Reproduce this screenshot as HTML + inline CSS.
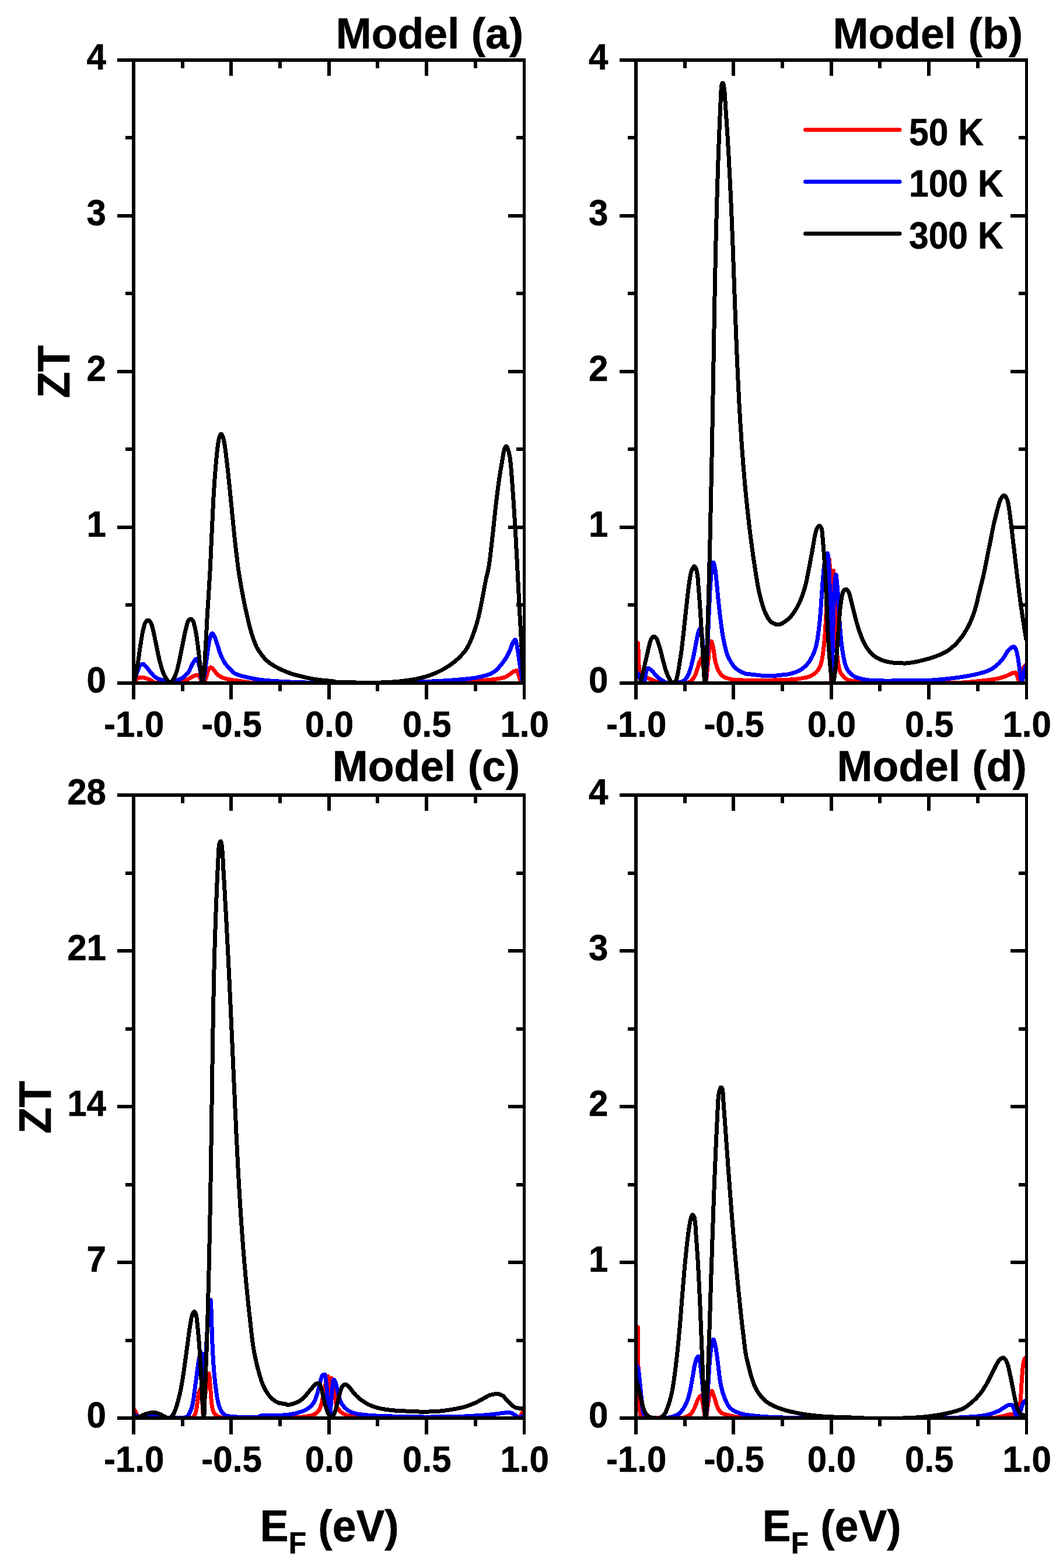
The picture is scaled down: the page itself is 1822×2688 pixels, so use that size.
<!DOCTYPE html>
<html lang="en">
<head>
<meta charset="utf-8">
<title>ZT versus Fermi energy for Models (a)-(d)</title>
<style>
html,body{margin:0;padding:0;background:#fff;}
body{width:1822px;height:2688px;overflow:hidden;}
svg{display:block;}
</style>
</head>
<body>
<svg width="1822" height="2688" viewBox="0 0 1822 2688">
<rect x="0" y="0" width="1822" height="2688" fill="#fff"/>
<g id="panel-a">
<clipPath id="clip-a"><rect x="232" y="106" width="664" height="1062"/></clipPath>
<g clip-path="url(#clip-a)" fill="none" stroke-width="7.0" stroke-linejoin="round" stroke-linecap="butt" shape-rendering="crispEdges">
<path stroke="#ff0000" d="M229.1,1170.7 L230.3,1168.6 L231.6,1166.8 L232.5,1165.7 L233.5,1164.7 L234.5,1163.9 L235.6,1163.2 L238.0,1162.0 L240.1,1161.4 L241.5,1161.1 L242.9,1161.0 L244.3,1161.1 L246.3,1161.5 L255.0,1164.4 L258.2,1165.8 L258.8,1166.1 L260.0,1167.0 L262.9,1169.5 L263.5,1169.9 L264.0,1170.2 L264.6,1170.5 L265.2,1170.6 L277.3,1170.7 L289.5,1170.7 L301.7,1170.7 L306.5,1170.6 L307.8,1170.4 L309.1,1170.1 L311.8,1169.1 L322.1,1164.3 L332.0,1159.0 L333.3,1158.4 L336.0,1157.6 L338.1,1157.2 L338.8,1157.2 L339.3,1157.2 L339.8,1157.4 L340.3,1157.8 L340.8,1158.3 L341.6,1159.7 L343.1,1162.4 L343.8,1163.8 L345.6,1168.6 L346.2,1169.8 L346.5,1170.2 L346.8,1170.5 L347.2,1170.7 L347.5,1170.6 L347.9,1170.5 L348.3,1170.2 L349.2,1169.3 L350.1,1168.0 L351.4,1165.9 L353.2,1162.2 L353.9,1160.3 L356.1,1151.3 L356.8,1149.4 L357.7,1147.4 L358.5,1146.0 L359.0,1145.3 L359.5,1144.7 L360.0,1144.2 L360.5,1143.9 L361.0,1143.8 L361.5,1143.9 L362.0,1144.2 L362.6,1144.5 L363.7,1145.5 L366.3,1148.3 L368.0,1150.5 L370.5,1154.1 L371.3,1155.1 L372.3,1156.1 L374.4,1157.8 L376.8,1159.4 L379.3,1160.8 L381.9,1161.9 L387.8,1163.6 L399.6,1166.0 L412.1,1167.6 L424.5,1169.6 L430.1,1170.4 L442.7,1170.9 L455.3,1171.0 L467.9,1171.0 L480.5,1171.0 L493.1,1171.0 L505.7,1171.0 L518.3,1171.0 L530.9,1171.0 L543.5,1171.0 L556.1,1171.0 L568.7,1170.9 L581.3,1170.9 L593.9,1170.9 L606.5,1170.9 L619.1,1170.9 L631.7,1170.9 L644.3,1170.9 L656.9,1170.8 L669.5,1170.8 L682.1,1170.8 L694.7,1170.8 L707.3,1170.7 L719.9,1170.7 L732.5,1170.7 L745.1,1170.6 L757.7,1170.4 L770.2,1169.9 L782.8,1169.3 L795.4,1168.5 L808.0,1167.7 L820.6,1166.9 L833.2,1166.0 L845.7,1164.8 L856.9,1163.1 L863.6,1161.5 L865.6,1160.9 L867.5,1160.1 L875.2,1155.1 L879.2,1152.0 L880.3,1151.3 L881.5,1150.7 L883.7,1150.0 L885.1,1149.8 L885.7,1149.7 L886.1,1149.7 L886.4,1150.0 L886.7,1150.4 L887.0,1150.9 L887.6,1152.2 L888.9,1157.2 L891.4,1164.8 L892.0,1166.1 L892.6,1167.2 L893.0,1167.7 L893.9,1168.6 L895.0,1169.5 L897.0,1170.6"/>
<path stroke="#0000ff" d="M229.1,1170.7 L233.0,1158.7 L237.0,1147.1 L238.0,1144.4 L238.9,1142.6 L239.5,1141.5 L240.3,1140.6 L241.5,1139.7 L242.8,1138.9 L243.5,1138.6 L244.1,1138.4 L244.8,1138.3 L245.3,1138.4 L245.9,1138.6 L246.5,1138.9 L247.0,1139.3 L248.1,1140.4 L252.1,1144.7 L257.7,1151.9 L263.3,1158.4 L265.4,1160.3 L267.0,1161.5 L268.7,1162.5 L271.9,1163.8 L280.7,1166.6 L283.3,1167.7 L287.3,1169.6 L288.6,1170.1 L289.9,1170.5 L291.2,1170.7 L292.5,1170.6 L293.8,1170.3 L295.8,1169.6 L301.0,1167.1 L308.9,1164.1 L310.8,1163.2 L313.1,1161.8 L316.0,1159.7 L318.6,1157.3 L321.1,1154.6 L323.2,1151.9 L324.6,1149.6 L329.3,1139.3 L332.9,1133.4 L334.3,1131.4 L335.2,1130.3 L335.6,1130.0 L336.0,1129.7 L336.4,1129.5 L336.7,1129.5 L337.1,1129.7 L337.4,1129.9 L337.7,1130.2 L338.3,1131.2 L338.9,1132.4 L339.9,1135.5 L342.4,1145.0 L344.4,1157.3 L345.9,1167.4 L346.5,1169.7 L346.9,1170.5 L347.2,1170.7 L347.3,1170.7 L347.6,1170.4 L348.0,1169.4 L348.9,1165.7 L351.0,1153.5 L352.7,1141.4 L354.3,1128.9 L356.0,1116.4 L357.7,1103.8 L359.2,1096.4 L360.6,1091.4 L361.5,1089.0 L362.1,1087.6 L362.7,1086.6 L363.1,1086.3 L363.4,1086.0 L363.7,1085.9 L364.0,1085.9 L364.4,1086.1 L364.8,1086.5 L365.6,1087.5 L366.8,1089.7 L368.9,1094.0 L372.8,1106.0 L376.6,1118.0 L380.6,1127.8 L383.5,1133.4 L385.6,1137.0 L387.2,1139.2 L395.5,1147.9 L398.2,1151.2 L399.1,1152.2 L400.2,1153.1 L402.4,1154.4 L405.6,1155.9 L413.7,1158.7 L426.0,1161.6 L438.3,1164.2 L450.8,1165.9 L463.4,1167.1 L475.9,1167.9 L488.5,1168.6 L501.1,1169.2 L513.7,1169.7 L526.3,1170.1 L538.9,1170.3 L551.5,1170.5 L564.1,1170.7 L576.7,1170.7 L589.3,1170.7 L601.9,1170.7 L614.5,1170.7 L627.1,1170.7 L639.7,1170.6 L652.3,1170.5 L664.9,1170.3 L677.5,1170.0 L690.1,1169.7 L702.7,1169.3 L715.3,1169.0 L727.9,1168.5 L740.5,1168.0 L753.0,1167.4 L765.6,1166.7 L778.2,1165.8 L790.7,1164.7 L803.3,1163.6 L815.8,1161.9 L828.1,1159.2 L835.6,1157.1 L840.1,1155.4 L843.2,1153.8 L846.9,1151.6 L850.8,1148.7 L853.3,1146.3 L861.3,1136.5 L865.9,1130.3 L869.5,1124.3 L874.6,1113.6 L878.2,1103.6 L879.1,1101.8 L880.7,1099.1 L881.7,1097.8 L882.2,1097.3 L882.6,1097.0 L883.0,1096.9 L883.4,1097.1 L883.7,1097.6 L884.1,1098.2 L884.7,1099.9 L885.6,1103.3 L887.5,1115.8 L889.4,1128.3 L891.2,1140.8 L893.1,1153.2 L895.1,1165.7 L895.8,1170.6"/>
<path stroke="#000000" d="M229.1,1170.7 L232.3,1158.5 L234.7,1146.1 L236.8,1133.7 L238.6,1121.2 L240.3,1108.7 L242.3,1096.3 L244.4,1083.8 L247.1,1072.8 L247.9,1070.0 L248.7,1068.1 L249.3,1067.0 L250.1,1065.9 L251.1,1064.7 L251.7,1064.2 L252.3,1063.7 L252.9,1063.3 L253.5,1063.1 L254.0,1063.1 L254.6,1063.2 L255.2,1063.5 L255.8,1064.0 L256.4,1064.5 L257.4,1065.7 L258.2,1066.8 L259.1,1068.6 L260.1,1071.1 L263.1,1082.9 L265.7,1095.3 L268.2,1107.6 L270.7,1120.0 L273.5,1132.3 L276.8,1144.5 L279.7,1153.1 L281.6,1157.6 L283.6,1161.3 L286.4,1165.4 L288.7,1168.5 L289.7,1169.7 L290.2,1170.1 L290.7,1170.5 L291.2,1170.6 L291.7,1170.6 L292.2,1170.5 L292.7,1170.1 L293.2,1169.7 L294.2,1168.5 L297.2,1164.2 L299.3,1160.5 L301.3,1155.9 L303.8,1148.0 L306.7,1135.7 L309.3,1123.3 L311.7,1111.0 L314.2,1098.6 L316.6,1086.2 L319.6,1073.9 L321.2,1068.1 L321.9,1066.1 L322.8,1064.3 L323.4,1063.3 L323.8,1062.9 L324.3,1062.4 L324.9,1062.0 L325.5,1061.6 L326.2,1061.3 L326.9,1061.1 L327.5,1061.2 L328.1,1061.5 L328.8,1061.9 L329.3,1062.4 L329.9,1063.0 L330.7,1064.1 L331.5,1065.8 L332.4,1068.4 L335.1,1080.3 L337.2,1092.8 L338.9,1105.2 L340.4,1117.8 L341.8,1130.3 L343.2,1142.8 L344.6,1155.3 L346.4,1167.8 L346.9,1170.0 L347.1,1170.6 L347.2,1170.7 L347.3,1170.6 L347.6,1170.2 L348.1,1168.1 L349.6,1155.6 L350.6,1143.1 L351.3,1130.5 L351.9,1117.9 L352.6,1105.3 L353.3,1092.7 L354.0,1080.1 L354.6,1067.6 L355.3,1055.0 L356.1,1042.4 L356.9,1029.8 L357.7,1017.2 L358.5,1004.7 L359.2,992.1 L360.0,979.5 L360.6,966.9 L361.2,954.3 L361.8,941.8 L362.3,929.2 L362.9,916.6 L363.5,904.0 L364.1,891.4 L364.7,878.8 L365.3,866.2 L365.9,853.7 L366.7,841.1 L367.5,828.5 L368.4,815.9 L369.4,803.4 L370.5,790.8 L371.6,778.3 L373.1,765.8 L374.8,753.8 L375.8,749.8 L376.5,747.9 L377.1,746.3 L377.5,745.5 L378.0,744.9 L378.4,744.4 L378.8,744.1 L379.2,744.0 L379.6,744.2 L380.0,744.7 L380.4,745.3 L381.2,746.8 L382.3,749.6 L383.7,754.9 L385.7,766.8 L387.4,779.3 L388.8,791.8 L390.3,804.4 L391.6,816.9 L392.9,829.4 L394.2,841.9 L395.4,854.5 L396.7,867.0 L397.9,879.6 L399.1,892.1 L400.4,904.6 L401.6,917.2 L403.0,929.7 L404.4,942.2 L405.9,954.7 L407.4,967.3 L409.1,979.7 L411.1,992.2 L413.2,1004.6 L415.5,1017.0 L417.9,1029.4 L420.4,1041.8 L423.2,1054.1 L426.0,1066.3 L429.1,1078.5 L432.6,1090.6 L436.9,1102.5 L440.0,1109.6 L442.4,1113.8 L449.7,1124.1 L454.2,1129.5 L457.7,1132.9 L462.6,1136.8 L469.6,1141.4 L480.8,1147.4 L492.3,1152.4 L503.6,1156.3 L515.8,1159.4 L528.0,1162.4 L540.4,1164.6 L552.9,1166.1 L565.5,1167.2 L571.7,1168.0 L575.1,1169.0 L575.8,1169.1 L588.3,1169.3 L601.0,1169.5 L613.6,1170.2 L626.2,1170.7 L638.8,1170.5 L651.4,1170.1 L664.0,1169.5 L676.5,1168.8 L689.1,1167.6 L701.6,1166.0 L714.0,1163.9 L726.3,1160.9 L738.3,1157.1 L748.7,1152.9 L759.4,1147.5 L769.5,1141.4 L777.5,1135.6 L785.5,1128.7 L792.8,1121.2 L797.3,1115.7 L800.4,1111.1 L804.4,1103.8 L809.1,1092.8 L813.4,1081.0 L817.2,1068.9 L820.4,1056.7 L823.1,1044.4 L825.6,1032.1 L828.0,1019.7 L830.2,1007.3 L832.6,994.9 L834.4,986.7 L836.1,980.6 L838.3,968.3 L840.0,955.8 L841.5,943.3 L842.9,930.7 L844.3,918.2 L845.7,905.7 L847.0,893.1 L848.3,880.6 L849.7,868.1 L851.1,855.5 L852.7,843.0 L854.3,830.5 L856.1,818.1 L858.1,805.6 L860.3,793.2 L862.3,780.7 L863.4,774.5 L864.3,771.2 L865.1,768.8 L865.8,767.2 L866.6,765.9 L866.9,765.4 L867.3,765.1 L867.6,765.0 L867.9,765.1 L868.3,765.4 L868.6,765.8 L869.4,767.1 L870.4,769.5 L872.1,775.1 L874.0,784.0 L875.5,796.6 L876.5,809.1 L877.5,821.7 L878.4,834.3 L879.3,846.8 L880.2,859.4 L881.0,872.0 L881.8,884.6 L882.6,897.1 L883.3,909.7 L884.1,922.3 L884.7,934.9 L885.4,947.4 L886.1,960.0 L886.7,972.6 L887.4,985.2 L888.0,997.8 L888.7,1010.4 L889.3,1022.9 L889.9,1035.5 L890.6,1048.1 L891.3,1060.7 L892.0,1073.3 L892.7,1085.9 L893.5,1098.4 L894.1,1111.0 L894.8,1123.6 L895.4,1136.2 L896.0,1148.8 L896.6,1161.4 L897.0,1170.6"/>
</g>
<g fill="#000" shape-rendering="crispEdges">
<rect x="226" y="100" width="6" height="1074"/>
<rect x="896" y="100" width="5" height="1074"/>
<rect x="226" y="100" width="675" height="6"/>
<rect x="226" y="1168" width="675" height="6"/>
<rect x="226" y="1174" width="6" height="25"/>
<rect x="226" y="106" width="6" height="24"/>
<rect x="310" y="1174" width="6" height="11"/>
<rect x="310" y="106" width="6" height="11"/>
<rect x="393" y="1174" width="6" height="25"/>
<rect x="393" y="106" width="6" height="24"/>
<rect x="477" y="1174" width="6" height="11"/>
<rect x="477" y="106" width="6" height="11"/>
<rect x="561" y="1174" width="6" height="25"/>
<rect x="561" y="106" width="6" height="24"/>
<rect x="644" y="1174" width="6" height="11"/>
<rect x="644" y="106" width="6" height="11"/>
<rect x="728" y="1174" width="6" height="25"/>
<rect x="728" y="106" width="6" height="24"/>
<rect x="812" y="1174" width="6" height="11"/>
<rect x="812" y="106" width="6" height="11"/>
<rect x="896" y="1174" width="5" height="25"/>
<rect x="896" y="106" width="5" height="24"/>
<rect x="201" y="100" width="25" height="6"/>
<rect x="871" y="100" width="25" height="6"/>
<rect x="215" y="233" width="11" height="6"/>
<rect x="885" y="233" width="11" height="6"/>
<rect x="201" y="367" width="25" height="6"/>
<rect x="871" y="367" width="25" height="6"/>
<rect x="215" y="500" width="11" height="6"/>
<rect x="885" y="500" width="11" height="6"/>
<rect x="201" y="634" width="25" height="6"/>
<rect x="871" y="634" width="25" height="6"/>
<rect x="215" y="767" width="11" height="6"/>
<rect x="885" y="767" width="11" height="6"/>
<rect x="201" y="901" width="25" height="6"/>
<rect x="871" y="901" width="25" height="6"/>
<rect x="215" y="1034" width="11" height="6"/>
<rect x="885" y="1034" width="11" height="6"/>
<rect x="201" y="1168" width="25" height="6"/>
<rect x="871" y="1168" width="25" height="6"/>
</g>
<g font-family="'Liberation Sans', Arial, Helvetica, sans-serif" font-weight="bold" fill="#000" stroke="#000" stroke-width="0.6" stroke-linejoin="round">
<text transform="translate(575.70,82.90) scale(0.99,1.0)" font-size="74" text-anchor="start">Model (a)</text>
<text transform="translate(181.90,1186.60) scale(0.976,1.025)" font-size="61.5" text-anchor="end">0</text>
<text transform="translate(181.90,919.60) scale(0.976,1.025)" font-size="61.5" text-anchor="end">1</text>
<text transform="translate(181.90,652.60) scale(0.976,1.025)" font-size="61.5" text-anchor="end">2</text>
<text transform="translate(181.90,385.60) scale(0.976,1.025)" font-size="61.5" text-anchor="end">3</text>
<text transform="translate(181.90,118.60) scale(0.976,1.025)" font-size="61.5" text-anchor="end">4</text>
<text transform="translate(229.70,1262.70) scale(0.976,1.025)" font-size="61.5" text-anchor="middle">-1.0</text>
<text transform="translate(397.07,1262.70) scale(0.976,1.025)" font-size="61.5" text-anchor="middle">-0.5</text>
<text transform="translate(564.45,1262.70) scale(0.976,1.025)" font-size="61.5" text-anchor="middle">0.0</text>
<text transform="translate(731.83,1262.70) scale(0.976,1.025)" font-size="61.5" text-anchor="middle">0.5</text>
<text transform="translate(899.20,1262.70) scale(0.976,1.025)" font-size="61.5" text-anchor="middle">1.0</text>
<text transform="translate(119.00,637.30) rotate(-90) scale(1.0,1.04)" font-size="74" text-anchor="middle">ZT</text>
</g>
</g>
<g id="panel-b">
<clipPath id="clip-b"><rect x="1093" y="106" width="664" height="1062"/></clipPath>
<g clip-path="url(#clip-b)" fill="none" stroke-width="7.0" stroke-linejoin="round" stroke-linecap="butt" shape-rendering="crispEdges">
<path stroke="#ff0000" d="M1090.0,1101.0 L1091.7,1101.3 L1092.4,1101.6 L1093.0,1101.8 L1093.2,1102.1 L1093.7,1105.0 L1094.2,1117.3 L1094.5,1129.4 L1095.1,1142.0 L1096.0,1154.6 L1096.9,1163.0 L1097.6,1166.4 L1098.1,1168.0 L1098.7,1169.6 L1099.1,1170.2 L1099.4,1170.7 L1099.8,1171.0 L1100.2,1171.0 L1100.7,1170.7 L1101.2,1170.3 L1102.2,1169.2 L1104.2,1166.7 L1105.7,1164.3 L1106.2,1163.8 L1106.7,1163.4 L1107.3,1163.0 L1107.9,1162.6 L1108.6,1162.4 L1109.3,1162.3 L1109.9,1162.4 L1111.3,1162.8 L1122.9,1167.7 L1126.8,1169.4 L1128.7,1170.4 L1129.4,1170.7 L1130.0,1170.9 L1130.7,1171.0 L1143.2,1171.0 L1155.9,1171.0 L1168.5,1171.1 L1173.4,1171.0 L1176.3,1170.7 L1180.3,1169.9 L1181.5,1169.5 L1182.6,1168.9 L1183.8,1168.1 L1185.4,1166.6 L1186.9,1164.9 L1189.1,1161.8 L1190.5,1159.5 L1192.0,1156.4 L1195.5,1146.4 L1198.0,1137.6 L1200.0,1132.4 L1201.1,1130.2 L1201.7,1129.2 L1202.0,1129.0 L1202.2,1128.9 L1202.4,1129.0 L1202.6,1129.3 L1203.0,1130.1 L1203.6,1132.1 L1205.7,1144.3 L1207.2,1156.8 L1208.6,1168.8 L1209.0,1170.6 L1209.2,1171.0 L1209.4,1171.1 L1209.6,1171.0 L1209.9,1170.0 L1211.5,1157.7 L1212.6,1145.1 L1213.8,1132.8 L1214.9,1120.2 L1216.3,1109.0 L1217.4,1103.7 L1218.0,1101.4 L1218.4,1100.3 L1218.6,1099.9 L1218.8,1099.6 L1219.0,1099.5 L1219.2,1099.6 L1219.4,1099.7 L1219.8,1100.5 L1220.5,1102.3 L1222.1,1108.3 L1223.4,1115.5 L1224.9,1128.0 L1226.8,1136.9 L1228.8,1143.6 L1230.4,1147.5 L1232.0,1150.7 L1233.9,1153.6 L1235.6,1155.8 L1237.6,1157.9 L1239.3,1159.3 L1240.4,1160.0 L1242.7,1161.3 L1246.0,1162.6 L1249.5,1163.6 L1257.0,1165.2 L1260.5,1165.6 L1271.0,1165.7 L1278.6,1166.8 L1291.2,1166.8 L1303.8,1166.7 L1316.4,1166.4 L1329.0,1165.8 L1341.6,1165.4 L1354.2,1165.0 L1366.1,1164.1 L1378.0,1162.2 L1384.0,1160.8 L1387.3,1159.7 L1390.6,1158.1 L1393.7,1156.4 L1396.5,1154.4 L1398.5,1152.7 L1400.4,1150.6 L1402.6,1147.7 L1404.2,1145.2 L1405.5,1142.7 L1406.9,1138.9 L1408.9,1130.8 L1410.8,1118.9 L1412.3,1106.4 L1413.5,1093.8 L1414.4,1081.2 L1415.2,1068.7 L1415.9,1056.1 L1416.5,1043.5 L1417.0,1030.9 L1417.5,1018.3 L1418.0,1005.7 L1418.6,993.1 L1419.4,981.0 L1420.3,968.6 L1421.4,959.3 L1421.4,959.2 L1422.4,971.9 L1422.7,984.7 L1423.0,996.7 L1423.3,1008.9 L1423.5,1021.5 L1423.6,1033.5 L1423.8,1045.5 L1423.9,1058.1 L1424.0,1070.1 L1424.1,1082.2 L1424.2,1094.3 L1424.3,1107.0 L1424.4,1119.1 L1424.5,1131.3 L1424.6,1143.8 L1424.7,1155.9 L1424.9,1168.1 L1425.1,1169.8 L1425.4,1157.8 L1425.5,1145.4 L1425.7,1132.7 L1425.8,1120.1 L1425.9,1107.6 L1426.0,1094.7 L1426.1,1082.6 L1426.2,1070.6 L1426.4,1058.0 L1426.5,1045.4 L1426.7,1033.3 L1427.0,1020.5 L1427.2,1007.6 L1427.6,995.1 L1428.0,982.7 L1428.5,978.3 L1429.5,990.9 L1430.1,1003.7 L1430.7,1016.3 L1431.2,1028.9 L1431.6,1041.5 L1431.9,1054.1 L1432.3,1066.7 L1432.8,1079.3 L1433.2,1091.9 L1433.7,1104.5 L1434.3,1117.1 L1435.6,1129.6 L1437.5,1142.1 L1438.7,1147.6 L1439.7,1150.9 L1440.5,1152.8 L1441.6,1154.6 L1444.2,1158.0 L1447.1,1161.2 L1448.7,1162.7 L1449.8,1163.5 L1450.9,1164.3 L1452.1,1164.8 L1455.3,1166.0 L1459.5,1167.0 L1472.0,1168.6 L1484.6,1169.2 L1497.2,1169.4 L1509.8,1169.6 L1522.4,1169.7 L1535.0,1169.8 L1547.6,1169.9 L1560.2,1169.9 L1572.8,1169.9 L1585.4,1169.9 L1598.0,1169.9 L1610.6,1169.9 L1623.2,1169.9 L1635.8,1170.1 L1647.0,1170.2 L1659.6,1169.4 L1672.1,1168.2 L1684.7,1166.9 L1697.2,1165.4 L1709.6,1163.4 L1719.1,1160.9 L1723.1,1159.6 L1732.0,1155.5 L1734.6,1154.2 L1735.8,1153.6 L1736.5,1153.4 L1740.1,1153.1 L1740.7,1153.0 L1741.1,1153.2 L1741.5,1153.5 L1741.8,1154.0 L1742.2,1154.7 L1744.2,1160.7 L1745.5,1165.4 L1746.9,1169.2 L1747.3,1169.8 L1747.6,1170.3 L1747.9,1170.6 L1748.2,1170.6 L1748.4,1170.3 L1748.7,1169.9 L1749.2,1168.8 L1751.4,1159.4 L1753.2,1149.7 L1753.9,1147.1 L1754.6,1145.0 L1755.2,1143.7 L1755.9,1142.4 L1756.7,1141.4 L1757.2,1141.0 L1757.7,1140.6 L1759.2,1139.9"/>
<path stroke="#0000ff" d="M1090.0,1153.0 L1091.4,1153.6 L1092.0,1153.9 L1092.6,1154.3 L1093.1,1154.7 L1093.5,1155.1 L1094.3,1156.2 L1095.2,1158.1 L1099.1,1166.7 L1099.7,1167.9 L1100.5,1169.0 L1101.0,1169.5 L1101.6,1170.0 L1102.3,1170.5 L1102.9,1170.8 L1103.4,1171.0 L1103.6,1170.9 L1103.9,1170.7 L1104.1,1170.3 L1104.5,1169.3 L1105.1,1166.1 L1105.8,1160.9 L1107.6,1151.8 L1108.2,1149.8 L1109.0,1147.8 L1109.4,1147.1 L1109.8,1146.4 L1110.2,1145.8 L1110.7,1145.5 L1111.2,1145.5 L1111.8,1145.7 L1113.2,1146.5 L1114.9,1147.7 L1116.5,1149.0 L1125.0,1158.4 L1129.0,1162.3 L1131.2,1164.1 L1134.1,1166.0 L1140.3,1169.4 L1141.6,1170.0 L1142.9,1170.3 L1147.1,1170.9 L1149.9,1171.0 L1157.6,1170.6 L1163.8,1169.8 L1165.9,1169.4 L1168.0,1168.8 L1170.0,1167.9 L1171.8,1167.0 L1172.8,1166.3 L1173.9,1165.5 L1175.3,1163.9 L1177.1,1161.5 L1179.3,1157.8 L1181.0,1154.1 L1184.8,1142.0 L1187.7,1129.7 L1190.3,1117.4 L1192.6,1105.0 L1194.9,1092.5 L1196.2,1086.4 L1197.0,1083.7 L1198.2,1080.5 L1199.3,1078.3 L1200.0,1077.4 L1200.2,1077.2 L1200.4,1077.1 L1200.6,1077.2 L1200.8,1077.4 L1201.2,1078.0 L1201.7,1079.5 L1202.5,1083.2 L1204.0,1095.2 L1205.1,1107.7 L1205.9,1120.3 L1206.6,1132.9 L1207.2,1144.9 L1207.8,1157.7 L1208.5,1170.0 L1208.8,1171.1 L1208.9,1171.0 L1210.1,1158.5 L1210.9,1146.0 L1211.6,1133.5 L1212.2,1121.2 L1212.8,1108.7 L1213.3,1096.1 L1213.8,1083.5 L1214.3,1070.9 L1214.8,1058.3 L1215.4,1045.7 L1216.0,1033.1 L1216.6,1020.5 L1217.2,1007.9 L1218.1,995.3 L1219.2,982.7 L1220.7,970.4 L1221.6,966.2 L1222.0,964.8 L1222.3,964.2 L1222.5,964.1 L1222.6,964.0 L1222.7,964.0 L1222.9,964.1 L1223.2,964.7 L1224.0,967.0 L1225.8,975.6 L1227.4,987.7 L1228.5,1000.3 L1229.7,1012.8 L1230.9,1025.3 L1232.2,1037.9 L1233.6,1050.4 L1235.1,1062.9 L1236.7,1075.4 L1238.5,1087.9 L1240.9,1100.2 L1243.7,1112.6 L1246.2,1121.3 L1247.9,1125.9 L1250.8,1131.5 L1254.8,1138.1 L1257.3,1141.6 L1259.1,1143.7 L1261.1,1145.6 L1263.8,1147.8 L1266.8,1149.7 L1273.0,1153.0 L1276.3,1154.3 L1278.3,1155.0 L1280.3,1155.4 L1292.9,1156.6 L1305.4,1158.2 L1318.1,1158.9 L1327.7,1159.0 L1328.4,1158.8 L1329.7,1158.2 L1333.8,1157.5 L1346.4,1156.5 L1351.9,1155.7 L1358.1,1154.1 L1365.4,1151.6 L1369.2,1150.0 L1372.2,1148.3 L1375.8,1145.8 L1379.6,1142.7 L1382.5,1139.8 L1385.7,1136.0 L1388.9,1131.3 L1393.1,1123.3 L1396.2,1116.1 L1398.2,1110.1 L1400.8,1097.9 L1402.6,1085.4 L1404.2,1072.9 L1405.5,1060.3 L1406.6,1047.8 L1407.4,1035.2 L1408.3,1022.6 L1409.2,1010.1 L1410.1,997.5 L1411.1,984.9 L1412.3,972.4 L1413.6,960.4 L1414.7,954.3 L1415.2,952.9 L1415.9,951.3 L1416.8,949.7 L1417.5,948.6 L1417.8,948.3 L1418.0,948.2 L1418.1,948.2 L1418.4,948.5 L1418.8,949.4 L1419.3,951.9 L1420.5,964.3 L1421.1,976.7 L1421.6,989.3 L1422.0,1001.9 L1422.3,1014.5 L1422.5,1027.1 L1422.7,1039.7 L1423.0,1052.3 L1423.2,1064.9 L1423.5,1077.2 L1423.7,1089.6 L1423.9,1102.3 L1424.1,1114.4 L1424.4,1127.3 L1424.6,1139.5 L1424.8,1151.8 L1425.2,1164.2 L1425.7,1170.1 L1426.2,1157.9 L1426.5,1145.3 L1426.8,1132.8 L1427.0,1120.2 L1427.2,1108.1 L1427.5,1095.2 L1427.8,1083.0 L1428.1,1070.7 L1428.4,1058.1 L1428.8,1045.5 L1429.2,1032.9 L1429.7,1020.3 L1430.3,1007.7 L1431.3,994.9 L1432.3,987.1 L1432.7,985.6 L1432.8,985.3 L1432.9,985.4 L1433.1,985.7 L1433.6,988.7 L1434.8,1000.8 L1435.9,1013.0 L1436.7,1025.6 L1437.5,1038.2 L1438.2,1050.8 L1438.9,1063.3 L1439.8,1075.9 L1440.8,1088.5 L1442.1,1101.0 L1443.7,1113.5 L1445.8,1125.9 L1448.2,1137.0 L1449.8,1142.3 L1450.8,1144.8 L1452.2,1147.3 L1454.1,1150.3 L1456.2,1153.0 L1458.2,1155.1 L1460.3,1157.0 L1462.0,1158.2 L1464.4,1159.6 L1468.2,1161.4 L1472.2,1162.8 L1482.5,1165.0 L1490.1,1166.0 L1502.7,1166.6 L1515.3,1167.0 L1527.9,1167.0 L1540.5,1166.8 L1553.1,1166.6 L1565.7,1166.6 L1578.3,1167.0 L1590.9,1166.5 L1603.5,1165.5 L1616.0,1164.4 L1628.5,1163.1 L1641.1,1161.6 L1653.5,1159.7 L1665.9,1157.5 L1678.3,1154.7 L1688.3,1151.8 L1694.9,1149.2 L1699.2,1147.1 L1702.8,1144.9 L1707.3,1141.4 L1712.4,1136.7 L1717.2,1131.5 L1721.0,1126.5 L1726.4,1117.4 L1727.6,1115.8 L1729.9,1113.1 L1731.5,1111.6 L1732.6,1110.7 L1733.8,1110.0 L1735.8,1109.3 L1737.2,1108.9 L1737.8,1108.9 L1738.3,1109.0 L1738.8,1109.3 L1739.3,1109.8 L1739.8,1110.5 L1740.6,1111.9 L1741.8,1114.5 L1742.8,1117.8 L1745.1,1129.6 L1746.9,1142.1 L1748.5,1154.6 L1750.2,1166.6 L1750.8,1169.6 L1751.2,1170.4 L1751.3,1170.6 L1751.5,1170.6 L1751.6,1170.4 L1751.9,1169.6 L1754.1,1157.8 L1756.1,1148.1 L1757.1,1144.8 L1759.2,1139.9"/>
<path stroke="#000000" d="M1090.0,1171.0 L1096.2,1171.0 L1096.6,1170.7 L1096.9,1170.2 L1097.3,1169.6 L1100.1,1161.1 L1103.1,1148.8 L1105.8,1136.5 L1108.7,1124.2 L1111.4,1111.9 L1114.6,1099.6 L1115.5,1096.8 L1116.1,1095.6 L1116.7,1094.4 L1117.5,1093.4 L1118.6,1092.3 L1119.2,1091.8 L1119.9,1091.5 L1120.5,1091.3 L1121.1,1091.2 L1121.7,1091.4 L1122.3,1091.7 L1122.9,1092.1 L1124.1,1093.2 L1125.0,1094.2 L1125.7,1095.3 L1126.6,1097.2 L1130.4,1108.6 L1133.7,1120.8 L1136.7,1133.1 L1140.0,1145.2 L1143.9,1156.5 L1147.1,1163.6 L1148.5,1166.0 L1149.3,1167.2 L1150.1,1168.2 L1151.3,1169.2 L1152.6,1170.2 L1153.3,1170.6 L1153.8,1170.9 L1154.2,1171.0 L1154.9,1170.9 L1155.5,1170.7 L1156.1,1170.3 L1156.9,1169.4 L1157.7,1168.3 L1158.7,1166.3 L1160.0,1162.6 L1161.7,1155.6 L1163.8,1143.3 L1165.7,1130.8 L1167.7,1118.3 L1169.2,1105.8 L1170.7,1093.2 L1172.1,1080.7 L1173.4,1068.2 L1174.8,1055.6 L1176.1,1043.1 L1177.5,1030.6 L1178.9,1018.1 L1180.4,1005.6 L1182.2,993.1 L1183.8,983.9 L1185.0,979.3 L1185.7,977.4 L1186.8,975.1 L1187.7,973.6 L1188.6,972.3 L1189.4,971.3 L1189.8,971.0 L1190.2,970.9 L1190.5,970.9 L1190.9,971.0 L1191.2,971.3 L1191.5,971.7 L1192.2,972.8 L1192.8,974.2 L1193.6,976.6 L1194.5,980.0 L1196.0,990.4 L1196.9,1002.4 L1197.9,1015.0 L1198.9,1027.5 L1199.8,1040.1 L1200.6,1052.7 L1201.4,1065.3 L1202.2,1077.8 L1202.9,1090.4 L1203.6,1103.0 L1204.3,1115.6 L1205.0,1128.2 L1205.8,1140.7 L1206.5,1153.5 L1207.4,1166.1 L1208.0,1170.7 L1208.2,1171.1 L1208.3,1171.0 L1208.7,1169.0 L1209.8,1156.3 L1210.6,1143.7 L1211.1,1131.6 L1211.6,1119.1 L1212.0,1106.5 L1212.3,1093.9 L1212.7,1081.3 L1213.1,1068.7 L1213.5,1056.1 L1213.9,1043.5 L1214.2,1030.9 L1214.6,1018.3 L1214.9,1005.7 L1215.3,993.1 L1215.6,980.5 L1215.9,967.9 L1216.3,955.3 L1216.6,942.7 L1216.9,930.1 L1217.2,917.5 L1217.5,904.9 L1217.8,892.3 L1218.0,879.7 L1218.3,867.1 L1218.6,854.5 L1218.9,841.9 L1219.1,829.3 L1219.4,816.8 L1219.6,804.2 L1219.9,791.6 L1220.1,779.0 L1220.4,766.4 L1220.6,753.8 L1220.8,741.2 L1221.1,728.6 L1221.3,716.0 L1221.5,703.4 L1221.8,690.8 L1222.0,678.2 L1222.2,665.6 L1222.4,653.0 L1222.6,640.4 L1222.9,627.8 L1223.1,615.2 L1223.3,602.6 L1223.5,590.0 L1223.7,577.4 L1224.0,564.8 L1224.2,552.2 L1224.4,539.6 L1224.7,527.0 L1224.9,514.4 L1225.1,501.8 L1225.4,489.2 L1225.6,476.6 L1225.9,464.0 L1226.2,451.4 L1226.4,438.8 L1226.7,426.2 L1227.0,413.6 L1227.3,401.0 L1227.6,388.4 L1228.0,375.8 L1228.3,363.2 L1228.6,350.6 L1229.0,338.1 L1229.4,325.5 L1229.8,312.9 L1230.2,300.3 L1230.6,287.7 L1231.0,275.1 L1231.5,262.5 L1231.9,249.9 L1232.4,237.3 L1232.9,224.7 L1233.4,212.1 L1234.0,199.5 L1234.5,187.0 L1235.1,174.4 L1235.7,161.7 L1236.3,149.1 L1236.4,147.8 L1236.7,146.2 L1237.3,144.5 L1237.9,143.0 L1238.3,142.5 L1238.6,142.1 L1238.8,142.0 L1239.1,142.1 L1239.4,142.5 L1239.9,143.9 L1240.6,146.4 L1242.1,159.0 L1242.9,171.6 L1243.7,184.3 L1244.6,196.8 L1245.4,209.4 L1246.3,222.0 L1247.1,234.6 L1247.8,247.1 L1248.6,259.7 L1249.3,272.3 L1249.9,284.9 L1250.6,297.5 L1251.2,310.0 L1251.8,322.6 L1252.4,335.2 L1253.0,347.8 L1253.5,360.4 L1254.1,373.0 L1254.6,385.6 L1255.1,398.2 L1255.6,410.7 L1256.1,423.3 L1256.5,435.9 L1257.0,448.5 L1257.5,461.1 L1257.9,473.7 L1258.4,486.3 L1258.8,498.9 L1259.3,511.5 L1259.8,524.1 L1260.2,536.7 L1260.7,549.2 L1261.2,561.8 L1261.7,574.4 L1262.2,587.0 L1262.7,599.6 L1263.2,612.2 L1263.8,624.8 L1264.3,637.4 L1264.9,650.0 L1265.5,662.5 L1266.2,675.1 L1266.8,687.7 L1267.5,700.3 L1268.2,712.9 L1269.0,725.5 L1269.8,738.0 L1270.6,750.6 L1271.4,763.2 L1272.4,775.7 L1273.3,788.3 L1274.3,800.9 L1275.4,813.4 L1276.4,826.0 L1277.6,838.5 L1278.8,851.1 L1280.1,863.6 L1281.4,876.1 L1282.8,888.7 L1284.2,901.2 L1285.7,913.7 L1287.3,926.2 L1289.0,938.7 L1290.7,951.2 L1292.5,963.6 L1294.4,976.1 L1296.3,988.5 L1298.4,1001.0 L1300.8,1013.4 L1303.7,1025.6 L1307.1,1037.8 L1310.6,1047.8 L1313.4,1054.1 L1316.5,1059.7 L1318.6,1062.8 L1319.9,1064.4 L1321.4,1065.8 L1322.4,1066.6 L1325.3,1068.4 L1327.3,1069.4 L1329.4,1070.2 L1330.8,1070.6 L1332.1,1070.8 L1333.4,1070.9 L1334.7,1070.8 L1336.0,1070.5 L1338.0,1069.9 L1339.9,1069.0 L1343.2,1067.1 L1350.1,1062.1 L1353.1,1059.3 L1356.5,1055.6 L1361.2,1049.3 L1366.0,1041.7 L1371.0,1031.6 L1375.6,1019.8 L1379.4,1007.8 L1382.5,995.6 L1384.9,983.2 L1387.3,970.8 L1389.6,958.4 L1391.9,946.1 L1394.1,933.6 L1396.1,921.2 L1398.5,910.9 L1399.6,907.4 L1400.4,905.5 L1401.1,904.3 L1401.8,903.3 L1402.4,902.7 L1403.0,902.2 L1403.6,901.7 L1404.2,901.4 L1404.7,901.3 L1405.2,901.5 L1405.7,901.8 L1406.2,902.3 L1406.6,903.0 L1407.5,904.5 L1408.1,906.0 L1409.0,910.5 L1410.1,922.5 L1411.1,934.5 L1412.1,947.1 L1413.0,959.6 L1413.8,972.2 L1414.5,984.8 L1415.1,997.4 L1415.7,1009.9 L1416.3,1022.5 L1416.8,1035.1 L1417.4,1047.7 L1417.9,1060.3 L1418.5,1072.9 L1419.1,1085.5 L1419.8,1098.1 L1420.6,1110.6 L1421.5,1123.2 L1422.5,1135.8 L1423.5,1148.4 L1425.0,1160.9 L1425.9,1165.6 L1426.7,1168.9 L1427.2,1170.0 L1427.4,1170.4 L1427.6,1170.6 L1427.8,1170.6 L1428.0,1170.5 L1428.2,1170.1 L1428.6,1169.0 L1430.7,1157.5 L1432.1,1144.9 L1433.2,1132.4 L1434.3,1119.8 L1435.2,1107.2 L1436.1,1094.7 L1437.0,1082.1 L1437.8,1069.5 L1438.9,1057.0 L1440.0,1044.4 L1441.5,1031.9 L1443.1,1022.1 L1444.2,1017.4 L1445.1,1014.6 L1445.7,1013.2 L1446.1,1012.6 L1446.5,1012.0 L1446.9,1011.6 L1447.3,1011.3 L1448.0,1011.0 L1448.7,1010.8 L1449.4,1010.6 L1450.1,1010.5 L1450.7,1010.5 L1451.4,1010.8 L1452.0,1011.2 L1452.5,1011.7 L1453.5,1012.9 L1454.2,1014.0 L1455.0,1015.8 L1456.1,1019.2 L1459.2,1030.9 L1462.2,1043.1 L1465.2,1055.4 L1468.4,1067.5 L1472.1,1079.6 L1476.3,1091.5 L1480.2,1100.5 L1484.2,1107.9 L1487.7,1113.2 L1491.1,1117.5 L1494.5,1121.1 L1497.7,1124.0 L1500.5,1126.1 L1505.3,1128.8 L1510.4,1131.2 L1515.1,1132.9 L1523.9,1135.0 L1530.1,1136.0 L1542.7,1136.9 L1551.8,1137.1 L1564.3,1135.6 L1576.7,1133.1 L1588.9,1130.0 L1601.0,1126.3 L1612.7,1121.7 L1620.3,1118.0 L1625.0,1115.1 L1630.1,1111.4 L1637.0,1105.3 L1642.7,1099.2 L1649.6,1090.3 L1656.4,1079.7 L1661.7,1069.8 L1666.6,1058.2 L1670.7,1046.3 L1674.1,1034.2 L1677.0,1021.9 L1680.0,1009.7 L1683.1,997.5 L1686.0,985.2 L1688.6,972.9 L1691.0,960.5 L1693.4,948.1 L1695.9,935.8 L1698.4,923.4 L1700.8,911.0 L1703.3,898.7 L1706.2,886.4 L1709.4,874.3 L1712.5,862.5 L1713.9,858.6 L1715.0,856.2 L1716.1,854.2 L1717.5,852.2 L1718.5,850.9 L1719.0,850.4 L1719.5,850.0 L1720.0,849.6 L1720.5,849.4 L1721.0,849.4 L1721.4,849.4 L1721.9,849.7 L1722.3,850.0 L1722.8,850.5 L1723.8,851.6 L1724.7,853.0 L1725.9,855.3 L1726.7,857.4 L1728.1,862.5 L1729.9,874.4 L1731.5,886.4 L1733.1,898.9 L1734.6,911.4 L1736.0,923.9 L1737.5,936.4 L1739.0,948.9 L1740.4,961.4 L1741.9,974.0 L1743.3,986.5 L1744.9,999.0 L1746.4,1011.5 L1748.0,1024.0 L1749.7,1036.5 L1751.5,1048.9 L1753.3,1061.4 L1755.3,1073.8 L1757.3,1086.3 L1759.2,1097.5"/>
</g>
<g fill="#000" shape-rendering="crispEdges">
<rect x="1087" y="100" width="6" height="1074"/>
<rect x="1757" y="100" width="5" height="1074"/>
<rect x="1087" y="100" width="675" height="6"/>
<rect x="1087" y="1168" width="675" height="6"/>
<rect x="1087" y="1174" width="6" height="25"/>
<rect x="1087" y="106" width="6" height="24"/>
<rect x="1171" y="1174" width="6" height="11"/>
<rect x="1171" y="106" width="6" height="11"/>
<rect x="1254" y="1174" width="6" height="25"/>
<rect x="1254" y="106" width="6" height="24"/>
<rect x="1338" y="1174" width="6" height="11"/>
<rect x="1338" y="106" width="6" height="11"/>
<rect x="1422" y="1174" width="6" height="25"/>
<rect x="1422" y="106" width="6" height="24"/>
<rect x="1505" y="1174" width="6" height="11"/>
<rect x="1505" y="106" width="6" height="11"/>
<rect x="1589" y="1174" width="6" height="25"/>
<rect x="1589" y="106" width="6" height="24"/>
<rect x="1673" y="1174" width="6" height="11"/>
<rect x="1673" y="106" width="6" height="11"/>
<rect x="1757" y="1174" width="5" height="25"/>
<rect x="1757" y="106" width="5" height="24"/>
<rect x="1062" y="100" width="25" height="6"/>
<rect x="1732" y="100" width="25" height="6"/>
<rect x="1076" y="233" width="11" height="6"/>
<rect x="1746" y="233" width="11" height="6"/>
<rect x="1062" y="367" width="25" height="6"/>
<rect x="1732" y="367" width="25" height="6"/>
<rect x="1076" y="500" width="11" height="6"/>
<rect x="1746" y="500" width="11" height="6"/>
<rect x="1062" y="634" width="25" height="6"/>
<rect x="1732" y="634" width="25" height="6"/>
<rect x="1076" y="767" width="11" height="6"/>
<rect x="1746" y="767" width="11" height="6"/>
<rect x="1062" y="901" width="25" height="6"/>
<rect x="1732" y="901" width="25" height="6"/>
<rect x="1076" y="1034" width="11" height="6"/>
<rect x="1746" y="1034" width="11" height="6"/>
<rect x="1062" y="1168" width="25" height="6"/>
<rect x="1732" y="1168" width="25" height="6"/>
</g>
<g font-family="'Liberation Sans', Arial, Helvetica, sans-serif" font-weight="bold" fill="#000" stroke="#000" stroke-width="0.6" stroke-linejoin="round">
<text transform="translate(1427.60,82.90) scale(0.99,1.0)" font-size="74" text-anchor="start">Model (b)</text>
<text transform="translate(1042.50,1186.60) scale(0.976,1.025)" font-size="61.5" text-anchor="end">0</text>
<text transform="translate(1042.50,919.60) scale(0.976,1.025)" font-size="61.5" text-anchor="end">1</text>
<text transform="translate(1042.50,652.60) scale(0.976,1.025)" font-size="61.5" text-anchor="end">2</text>
<text transform="translate(1042.50,385.60) scale(0.976,1.025)" font-size="61.5" text-anchor="end">3</text>
<text transform="translate(1042.50,118.60) scale(0.976,1.025)" font-size="61.5" text-anchor="end">4</text>
<text transform="translate(1090.70,1262.70) scale(0.976,1.025)" font-size="61.5" text-anchor="middle">-1.0</text>
<text transform="translate(1258.08,1262.70) scale(0.976,1.025)" font-size="61.5" text-anchor="middle">-0.5</text>
<text transform="translate(1425.45,1262.70) scale(0.976,1.025)" font-size="61.5" text-anchor="middle">0.0</text>
<text transform="translate(1592.83,1262.70) scale(0.976,1.025)" font-size="61.5" text-anchor="middle">0.5</text>
<text transform="translate(1760.20,1262.70) scale(0.976,1.025)" font-size="61.5" text-anchor="middle">1.0</text>
</g>
</g>
<g id="panel-c">
<clipPath id="clip-c"><rect x="232" y="1366" width="664" height="1062"/></clipPath>
<g clip-path="url(#clip-c)" fill="none" stroke-width="7.0" stroke-linejoin="round" stroke-linecap="butt" shape-rendering="crispEdges">
<path stroke="#ff0000" d="M229.0,2415.2 L231.1,2418.0 L232.2,2419.8 L232.9,2421.0 L235.0,2426.4 L235.6,2427.6 L236.3,2428.7 L237.2,2429.9 L237.8,2430.4 L238.4,2430.8 L238.9,2431.0 L251.2,2431.0 L263.4,2431.0 L275.5,2431.0 L287.9,2431.0 L300.5,2431.0 L313.0,2431.0 L325.1,2431.0 L329.2,2430.7 L329.8,2430.5 L330.3,2430.2 L330.9,2429.7 L331.5,2429.2 L332.5,2428.0 L333.3,2426.7 L334.2,2425.0 L335.1,2422.4 L336.4,2417.5 L338.3,2405.0 L339.9,2392.5 L340.7,2387.6 L341.1,2386.3 L341.9,2383.8 L343.0,2381.5 L343.6,2380.5 L343.8,2380.3 L344.0,2380.3 L344.1,2380.5 L344.4,2381.2 L344.8,2383.0 L346.2,2395.4 L347.0,2407.7 L347.7,2420.2 L348.5,2430.7 L348.7,2431.0 L348.8,2430.9 L349.6,2418.8 L350.2,2406.2 L351.3,2394.2 L352.9,2381.7 L354.6,2369.2 L356.0,2360.9 L357.1,2356.6 L357.6,2355.3 L357.7,2354.8 L357.9,2354.6 L358.0,2354.6 L358.2,2354.7 L358.4,2355.3 L358.8,2357.5 L359.8,2369.5 L360.8,2382.1 L361.7,2394.7 L362.9,2407.2 L363.9,2413.5 L365.0,2417.6 L365.9,2420.2 L366.4,2421.4 L367.2,2422.6 L368.0,2423.8 L369.0,2424.9 L370.0,2425.8 L371.7,2427.0 L373.5,2428.0 L375.5,2428.9 L377.5,2429.6 L383.0,2430.7 L385.8,2431.0 L398.4,2431.0 L410.9,2431.0 L423.5,2431.0 L436.1,2431.0 L448.8,2431.0 L461.4,2431.0 L474.0,2431.0 L486.6,2431.0 L499.2,2430.6 L511.8,2429.7 L524.3,2428.3 L531.2,2427.1 L535.4,2426.0 L538.0,2425.0 L539.9,2424.2 L541.0,2423.5 L542.1,2422.7 L543.8,2421.3 L545.2,2419.7 L546.5,2417.9 L547.5,2416.2 L548.7,2413.7 L551.3,2405.6 L554.0,2393.3 L556.5,2381.0 L558.8,2368.5 L559.7,2365.2 L560.9,2361.9 L561.8,2359.9 L562.0,2359.5 L562.1,2359.4 L562.3,2359.6 L562.6,2360.6 L563.4,2373.5 L563.7,2385.9 L564.1,2397.9 L564.4,2409.9 L564.8,2422.5 L565.3,2431.0 L565.7,2418.8 L566.0,2406.4 L566.4,2393.7 L566.8,2380.9 L567.4,2368.5 L567.8,2364.3 L568.0,2363.3 L568.2,2363.0 L568.3,2362.9 L568.4,2363.0 L568.9,2363.8 L570.0,2366.1 L570.7,2367.8 L571.8,2373.2 L573.3,2385.8 L574.7,2397.7 L575.7,2405.4 L576.4,2408.7 L576.8,2410.0 L577.3,2411.2 L578.3,2413.1 L580.7,2416.6 L582.5,2418.8 L584.1,2420.3 L585.7,2421.7 L588.0,2423.2 L591.1,2424.8 L594.4,2426.1 L600.4,2428.0 L603.8,2428.7 L616.3,2430.0 L628.9,2430.7 L641.5,2430.8 L654.1,2430.9 L666.7,2431.0 L679.3,2431.0 L691.9,2431.0 L704.5,2431.0 L717.1,2431.1 L729.8,2431.1 L741.9,2431.1 L754.5,2431.1 L766.8,2431.1 L779.3,2431.1 L791.9,2431.2 L804.4,2431.2 L816.8,2431.2 L829.0,2431.2 L841.4,2431.2 L853.9,2431.2 L866.1,2431.2 L878.2,2431.2 L889.9,2431.2 L890.3,2431.0 L890.7,2430.6 L891.1,2430.0 L892.8,2426.3 L895.2,2421.8 L896.0,2420.7 L896.9,2419.7 L898.0,2418.9 L898.5,2418.5"/>
<path stroke="#0000ff" d="M229.0,2424.8 L234.1,2427.0 L235.3,2427.7 L236.5,2428.5 L238.3,2429.9 L238.9,2430.3 L239.5,2430.7 L240.1,2430.9 L240.7,2431.0 L243.3,2430.9 L255.3,2429.0 L260.1,2428.2 L262.2,2428.0 L264.3,2428.1 L267.7,2428.5 L273.9,2429.7 L285.8,2430.9 L298.4,2431.0 L310.3,2430.6 L316.1,2430.0 L318.8,2429.4 L320.0,2429.1 L320.5,2428.8 L321.0,2428.5 L321.4,2428.1 L322.3,2427.1 L323.1,2425.9 L326.7,2418.5 L328.4,2413.9 L329.7,2409.2 L331.9,2396.8 L333.6,2384.3 L335.2,2371.8 L336.9,2359.3 L338.5,2346.8 L340.3,2334.3 L342.2,2323.8 L342.8,2321.7 L343.3,2320.5 L343.6,2320.0 L344.1,2319.5 L344.8,2319.1 L345.1,2319.0 L345.2,2319.2 L345.4,2319.4 L345.6,2320.4 L346.0,2323.3 L346.6,2335.3 L347.1,2347.9 L347.4,2360.5 L347.6,2373.3 L347.8,2385.9 L348.0,2398.0 L348.2,2410.6 L348.3,2422.6 L348.8,2430.3 L349.2,2417.6 L349.5,2405.3 L349.8,2393.3 L350.1,2381.1 L350.6,2368.5 L351.1,2355.9 L351.7,2343.3 L352.3,2330.8 L353.0,2318.2 L353.7,2305.6 L354.4,2293.0 L355.2,2280.4 L356.1,2267.9 L357.0,2255.3 L358.2,2242.7 L359.1,2236.3 L360.5,2229.6 L360.9,2228.4 L361.0,2228.3 L361.1,2228.5 L361.5,2231.2 L362.0,2243.2 L362.4,2255.6 L362.8,2268.2 L363.2,2280.8 L363.6,2293.4 L364.1,2306.0 L364.7,2318.6 L365.4,2331.1 L366.3,2343.7 L367.3,2356.3 L368.6,2368.8 L370.1,2381.3 L371.8,2393.8 L373.8,2404.1 L375.6,2410.3 L377.3,2414.9 L378.7,2418.0 L380.2,2420.4 L381.5,2422.2 L382.5,2423.3 L383.5,2424.2 L385.1,2425.3 L386.9,2426.3 L389.0,2427.2 L390.3,2427.6 L400.6,2428.8 L412.6,2429.3 L425.3,2429.6 L437.9,2429.8 L439.9,2429.8 L440.6,2429.7 L441.3,2429.6 L442.6,2429.2 L445.9,2427.6 L447.2,2427.1 L447.9,2426.9 L460.3,2426.5 L472.3,2426.4 L484.9,2426.0 L495.4,2425.0 L505.1,2423.3 L514.5,2420.7 L519.8,2418.8 L524.3,2416.7 L527.2,2415.0 L530.1,2412.9 L532.8,2410.5 L535.1,2408.0 L537.2,2405.2 L539.1,2402.2 L540.6,2399.1 L544.5,2387.1 L547.5,2374.8 L549.9,2364.6 L551.3,2360.5 L551.9,2359.1 L552.2,2358.4 L552.6,2357.9 L553.0,2357.4 L553.4,2357.0 L554.0,2356.7 L554.8,2356.4 L555.6,2356.2 L556.1,2356.1 L556.4,2356.1 L556.6,2356.3 L556.9,2356.7 L557.3,2357.6 L557.7,2359.0 L559.3,2371.0 L560.4,2383.6 L561.2,2396.2 L562.3,2408.2 L563.4,2420.9 L564.5,2430.0 L564.8,2431.0 L564.9,2431.2 L565.0,2431.1 L565.4,2429.9 L566.6,2417.0 L567.5,2404.5 L568.4,2392.4 L569.4,2379.8 L570.7,2369.3 L571.2,2366.8 L571.6,2365.7 L571.8,2365.3 L572.1,2365.0 L572.3,2365.0 L572.6,2365.3 L573.0,2365.7 L573.8,2367.1 L574.6,2368.7 L575.4,2370.7 L578.3,2383.0 L580.4,2392.6 L582.2,2398.6 L584.1,2403.2 L585.7,2406.2 L587.7,2409.2 L589.8,2411.9 L592.3,2414.4 L594.4,2416.3 L597.3,2418.3 L600.3,2420.0 L602.9,2421.3 L605.5,2422.2 L612.3,2423.9 L624.8,2425.6 L637.3,2426.6 L649.9,2427.3 L662.5,2427.7 L675.1,2428.1 L687.7,2428.3 L700.3,2428.6 L712.9,2428.8 L725.5,2429.0 L738.1,2429.0 L750.7,2428.9 L763.3,2428.7 L775.9,2428.5 L788.5,2428.3 L801.1,2427.8 L813.7,2427.0 L826.3,2426.2 L838.8,2425.2 L851.3,2423.8 L863.8,2422.1 L866.6,2421.9 L874.3,2421.9 L875.0,2421.9 L875.7,2422.0 L877.0,2422.4 L878.2,2423.0 L883.8,2426.4 L887.7,2429.3 L890.2,2430.9 L890.8,2431.2 L891.4,2431.2 L891.9,2431.0 L892.5,2430.6 L894.6,2428.3 L898.5,2424.8"/>
<path stroke="#000000" d="M229.0,2430.5 L233.8,2429.8 L239.3,2428.5 L241.2,2427.8 L248.3,2424.6 L250.2,2423.9 L257.1,2422.1 L259.8,2421.6 L261.9,2421.4 L263.3,2421.3 L265.3,2421.5 L267.4,2422.0 L275.4,2424.8 L276.7,2425.4 L282.7,2429.0 L284.0,2429.6 L287.4,2430.7 L288.8,2431.0 L289.4,2431.0 L290.0,2431.0 L290.6,2430.9 L291.2,2430.6 L291.9,2430.2 L293.0,2429.3 L294.2,2428.2 L296.0,2425.9 L297.5,2423.8 L299.0,2420.8 L301.3,2414.7 L304.9,2403.1 L308.0,2390.9 L310.5,2378.6 L312.7,2366.2 L314.6,2353.7 L316.4,2341.2 L318.1,2328.7 L319.8,2316.3 L321.5,2303.8 L323.1,2291.3 L324.8,2278.8 L326.8,2266.3 L328.3,2258.6 L329.4,2254.7 L330.2,2252.6 L330.9,2251.0 L331.7,2249.6 L332.1,2249.1 L332.5,2248.7 L332.9,2248.6 L333.3,2248.7 L333.7,2249.0 L334.1,2249.4 L334.5,2250.1 L335.3,2251.6 L335.9,2253.2 L336.8,2257.2 L338.3,2269.7 L339.4,2281.7 L340.6,2294.2 L341.6,2306.8 L342.5,2319.4 L343.3,2331.9 L343.9,2344.5 L344.6,2357.1 L345.3,2369.7 L345.9,2382.3 L346.5,2394.9 L347.3,2407.5 L348.2,2419.8 L349.4,2430.9 L349.5,2431.0 L349.7,2430.5 L350.4,2418.1 L350.8,2405.6 L351.1,2393.0 L351.6,2380.6 L352.1,2368.0 L352.6,2355.4 L353.0,2342.8 L353.5,2330.2 L354.0,2317.6 L354.4,2305.0 L354.8,2292.5 L355.2,2279.9 L355.6,2267.3 L356.0,2254.7 L356.3,2242.1 L356.7,2229.5 L357.0,2216.9 L357.4,2204.3 L357.7,2191.7 L358.0,2179.1 L358.3,2166.5 L358.6,2153.9 L358.8,2141.3 L359.1,2128.7 L359.4,2116.1 L359.6,2103.5 L359.9,2090.9 L360.1,2078.3 L360.3,2065.7 L360.6,2053.1 L360.8,2040.5 L361.0,2027.9 L361.2,2015.3 L361.4,2002.7 L361.6,1990.1 L361.8,1977.5 L362.0,1964.9 L362.2,1952.3 L362.3,1939.7 L362.5,1927.1 L362.7,1914.5 L362.9,1901.9 L363.1,1889.3 L363.2,1876.7 L363.4,1864.1 L363.6,1851.6 L363.8,1839.0 L364.0,1826.4 L364.1,1813.8 L364.3,1801.2 L364.5,1788.6 L364.7,1776.0 L365.0,1763.4 L365.2,1750.8 L365.4,1738.2 L365.7,1725.6 L365.9,1713.0 L366.2,1700.4 L366.4,1687.8 L366.7,1675.2 L367.0,1662.6 L367.4,1650.0 L367.7,1637.4 L368.0,1624.8 L368.4,1612.2 L368.8,1599.6 L369.2,1587.0 L369.6,1574.4 L370.1,1561.8 L370.6,1549.2 L371.1,1536.6 L371.6,1524.1 L372.1,1511.5 L372.7,1498.9 L373.3,1486.3 L373.9,1473.7 L374.4,1461.0 L375.2,1450.6 L375.6,1448.2 L376.4,1445.5 L377.2,1443.3 L377.7,1442.4 L377.9,1442.1 L378.1,1442.0 L378.3,1442.1 L378.5,1442.4 L378.9,1443.4 L379.5,1445.7 L380.4,1450.8 L381.5,1463.3 L382.2,1475.9 L382.8,1488.6 L383.5,1501.1 L384.3,1513.7 L385.0,1526.3 L385.7,1538.9 L386.4,1551.5 L387.1,1564.0 L387.8,1576.6 L388.5,1589.2 L389.1,1601.8 L389.8,1614.4 L390.4,1627.0 L391.1,1639.5 L391.7,1652.1 L392.3,1664.7 L392.9,1677.3 L393.5,1689.9 L394.1,1702.5 L394.7,1715.1 L395.3,1727.6 L395.8,1740.2 L396.4,1752.8 L397.0,1765.4 L397.6,1778.0 L398.1,1790.6 L398.7,1803.2 L399.2,1815.8 L399.8,1828.3 L400.4,1840.9 L400.9,1853.5 L401.5,1866.1 L402.1,1878.7 L402.6,1891.3 L403.2,1903.9 L403.8,1916.5 L404.4,1929.0 L404.9,1941.6 L405.6,1954.2 L406.2,1966.8 L406.8,1979.4 L407.5,1992.0 L408.1,2004.5 L408.8,2017.1 L409.5,2029.7 L410.3,2042.3 L411.0,2054.9 L411.8,2067.4 L412.6,2080.0 L413.4,2092.6 L414.3,2105.2 L415.2,2117.7 L416.1,2130.3 L417.1,2142.8 L418.1,2155.4 L419.2,2168.0 L420.3,2180.5 L421.4,2193.1 L422.6,2205.6 L423.8,2218.2 L425.1,2230.7 L426.4,2243.2 L427.8,2255.7 L429.2,2268.3 L430.5,2280.8 L432.0,2293.3 L433.7,2305.8 L435.7,2318.2 L438.2,2330.6 L441.1,2342.9 L444.4,2355.1 L447.8,2366.6 L451.3,2375.7 L454.3,2381.9 L457.6,2387.4 L461.0,2392.0 L463.7,2395.1 L467.2,2398.5 L470.6,2401.2 L473.0,2402.8 L475.5,2404.1 L477.3,2404.8 L479.3,2405.4 L488.2,2406.7 L490.2,2407.2 L491.3,2407.7 L492.8,2408.4 L495.1,2408.2 L499.2,2407.3 L507.2,2404.8 L509.7,2403.8 L512.9,2402.1 L516.4,2399.7 L519.7,2397.1 L522.1,2394.7 L529.7,2385.4 L537.9,2375.6 L539.3,2374.0 L540.3,2373.1 L540.9,2372.7 L542.1,2372.2 L543.5,2371.6 L544.9,2371.3 L545.6,2371.2 L546.1,2371.2 L546.6,2371.3 L547.1,2371.7 L547.6,2372.2 L548.0,2372.8 L548.8,2374.3 L550.0,2377.1 L551.0,2380.3 L553.5,2392.1 L556.1,2404.4 L559.4,2415.1 L561.9,2421.7 L563.4,2424.8 L565.4,2428.2 L566.3,2429.6 L566.7,2430.2 L567.2,2430.7 L567.7,2431.0 L568.1,2431.2 L568.5,2431.2 L568.9,2431.0 L569.4,2430.6 L569.8,2430.1 L570.6,2428.7 L572.9,2423.8 L576.7,2411.8 L579.7,2399.5 L582.7,2387.3 L584.9,2380.4 L585.7,2378.5 L586.3,2377.3 L587.1,2376.3 L588.1,2375.3 L589.3,2374.3 L590.0,2373.9 L590.6,2373.6 L591.3,2373.4 L591.9,2373.4 L592.5,2373.5 L593.1,2373.7 L593.8,2374.0 L595.0,2374.8 L597.8,2377.1 L598.8,2378.0 L606.1,2387.6 L609.3,2391.3 L613.8,2395.7 L619.3,2400.1 L626.9,2405.1 L631.8,2407.8 L638.8,2410.8 L646.2,2413.2 L657.1,2415.7 L669.6,2417.4 L682.1,2418.5 L694.7,2419.0 L707.3,2419.5 L719.9,2420.1 L732.5,2420.1 L745.1,2419.6 L757.7,2418.8 L770.1,2417.0 L782.6,2414.9 L794.9,2412.2 L804.2,2409.2 L815.9,2404.5 L826.9,2398.4 L836.8,2392.8 L838.7,2392.0 L840.6,2391.3 L846.8,2390.0 L850.3,2389.5 L852.4,2389.5 L853.8,2389.6 L855.2,2389.9 L857.2,2390.6 L860.4,2392.0 L861.5,2392.6 L862.6,2393.4 L864.1,2394.9 L868.3,2399.9 L874.6,2406.5 L876.7,2408.4 L880.7,2411.4 L882.5,2412.5 L883.8,2413.1 L885.1,2413.5 L889.2,2414.1 L892.0,2414.3 L898.5,2414.3"/>
</g>
<g fill="#000" shape-rendering="crispEdges">
<rect x="226" y="1360" width="6" height="1074"/>
<rect x="896" y="1360" width="5" height="1074"/>
<rect x="226" y="1360" width="675" height="6"/>
<rect x="226" y="2428" width="675" height="6"/>
<rect x="226" y="2434" width="6" height="25"/>
<rect x="226" y="1366" width="6" height="24"/>
<rect x="310" y="2434" width="6" height="11"/>
<rect x="310" y="1366" width="6" height="11"/>
<rect x="393" y="2434" width="6" height="25"/>
<rect x="393" y="1366" width="6" height="24"/>
<rect x="477" y="2434" width="6" height="11"/>
<rect x="477" y="1366" width="6" height="11"/>
<rect x="561" y="2434" width="6" height="25"/>
<rect x="561" y="1366" width="6" height="24"/>
<rect x="644" y="2434" width="6" height="11"/>
<rect x="644" y="1366" width="6" height="11"/>
<rect x="728" y="2434" width="6" height="25"/>
<rect x="728" y="1366" width="6" height="24"/>
<rect x="812" y="2434" width="6" height="11"/>
<rect x="812" y="1366" width="6" height="11"/>
<rect x="896" y="2434" width="5" height="25"/>
<rect x="896" y="1366" width="5" height="24"/>
<rect x="201" y="1360" width="25" height="6"/>
<rect x="871" y="1360" width="25" height="6"/>
<rect x="215" y="1494" width="11" height="6"/>
<rect x="885" y="1494" width="11" height="6"/>
<rect x="201" y="1627" width="25" height="6"/>
<rect x="871" y="1627" width="25" height="6"/>
<rect x="215" y="1761" width="11" height="6"/>
<rect x="885" y="1761" width="11" height="6"/>
<rect x="201" y="1894" width="25" height="6"/>
<rect x="871" y="1894" width="25" height="6"/>
<rect x="215" y="2028" width="11" height="6"/>
<rect x="885" y="2028" width="11" height="6"/>
<rect x="201" y="2161" width="25" height="6"/>
<rect x="871" y="2161" width="25" height="6"/>
<rect x="215" y="2295" width="11" height="6"/>
<rect x="885" y="2295" width="11" height="6"/>
<rect x="201" y="2428" width="25" height="6"/>
<rect x="871" y="2428" width="25" height="6"/>
</g>
<g font-family="'Liberation Sans', Arial, Helvetica, sans-serif" font-weight="bold" fill="#000" stroke="#000" stroke-width="0.6" stroke-linejoin="round">
<text transform="translate(569.70,1338.90) scale(0.99,1.0)" font-size="74" text-anchor="start">Model (c)</text>
<text transform="translate(181.90,2446.60) scale(0.976,1.025)" font-size="61.5" text-anchor="end">0</text>
<text transform="translate(181.90,2179.60) scale(0.976,1.025)" font-size="61.5" text-anchor="end">7</text>
<text transform="translate(181.90,1912.60) scale(0.976,1.025)" font-size="61.5" text-anchor="end">14</text>
<text transform="translate(181.90,1645.60) scale(0.976,1.025)" font-size="61.5" text-anchor="end">21</text>
<text transform="translate(181.90,1378.60) scale(0.976,1.025)" font-size="61.5" text-anchor="end">28</text>
<text transform="translate(229.70,2522.70) scale(0.976,1.025)" font-size="61.5" text-anchor="middle">-1.0</text>
<text transform="translate(397.07,2522.70) scale(0.976,1.025)" font-size="61.5" text-anchor="middle">-0.5</text>
<text transform="translate(564.45,2522.70) scale(0.976,1.025)" font-size="61.5" text-anchor="middle">0.0</text>
<text transform="translate(731.83,2522.70) scale(0.976,1.025)" font-size="61.5" text-anchor="middle">0.5</text>
<text transform="translate(899.20,2522.70) scale(0.976,1.025)" font-size="61.5" text-anchor="middle">1.0</text>
<text transform="translate(86.50,1898.20) rotate(-90) scale(1.0,1.04)" font-size="74" text-anchor="middle">ZT</text>
<text transform="translate(564.75,2642.00) scale(0.99,1.03)" font-size="74" text-anchor="middle">E<tspan font-size="50" dy="20">F</tspan><tspan dy="-20"> (eV)</tspan></text>
</g>
</g>
<g id="panel-d">
<clipPath id="clip-d"><rect x="1093" y="1366" width="664" height="1062"/></clipPath>
<g clip-path="url(#clip-d)" fill="none" stroke-width="7.0" stroke-linejoin="round" stroke-linecap="butt" shape-rendering="crispEdges">
<path stroke="#ff0000" d="M1090.0,2274.0 L1092.5,2274.6 L1093.0,2274.8 L1093.2,2275.1 L1093.5,2287.1 L1093.6,2299.1 L1093.7,2311.6 L1093.8,2323.8 L1093.9,2336.0 L1094.1,2348.6 L1094.3,2361.2 L1094.6,2373.8 L1095.1,2386.4 L1095.7,2399.0 L1096.3,2411.7 L1097.3,2423.5 L1097.6,2425.6 L1097.9,2427.2 L1098.5,2428.9 L1098.8,2429.6 L1099.1,2430.3 L1099.5,2430.7 L1099.8,2431.0 L1112.4,2431.0 L1124.4,2430.9 L1137.1,2430.9 L1149.3,2430.8 L1161.8,2430.6 L1170.3,2430.4 L1171.7,2430.3 L1173.8,2429.7 L1175.9,2429.0 L1178.6,2427.8 L1181.6,2426.0 L1183.2,2424.9 L1184.1,2424.0 L1185.4,2422.5 L1187.0,2420.1 L1190.8,2413.1 L1194.9,2401.8 L1196.0,2399.3 L1197.7,2396.6 L1199.1,2394.5 L1200.0,2393.4 L1200.4,2393.0 L1200.7,2392.8 L1201.0,2392.8 L1201.3,2392.9 L1201.5,2393.1 L1201.9,2393.8 L1202.3,2394.9 L1203.0,2397.8 L1204.7,2407.2 L1206.9,2419.9 L1208.4,2428.4 L1208.9,2430.3 L1209.3,2431.1 L1209.4,2431.2 L1209.5,2431.2 L1209.8,2431.1 L1210.1,2430.5 L1210.7,2428.4 L1212.4,2416.0 L1214.0,2403.7 L1216.0,2392.5 L1216.9,2389.2 L1217.4,2387.9 L1218.2,2386.4 L1218.7,2385.6 L1219.1,2385.0 L1219.5,2384.6 L1219.9,2384.4 L1220.3,2384.5 L1220.6,2384.8 L1220.9,2385.2 L1221.5,2386.6 L1225.3,2398.6 L1228.9,2410.0 L1230.2,2413.2 L1232.2,2417.1 L1233.4,2419.0 L1234.3,2420.2 L1235.2,2421.1 L1236.2,2421.9 L1237.7,2422.8 L1240.2,2423.8 L1244.9,2425.2 L1257.0,2427.9 L1267.3,2430.0 L1272.9,2430.6 L1285.5,2430.9 L1298.1,2431.0 L1310.7,2431.0 L1323.3,2431.1 L1335.9,2431.1 L1348.5,2431.1 L1361.1,2431.1 L1373.7,2431.1 L1386.3,2431.2 L1398.9,2431.2 L1411.5,2431.2 L1424.1,2431.2 L1436.7,2431.2 L1449.3,2431.2 L1461.9,2431.2 L1474.5,2431.2 L1487.1,2431.2 L1499.7,2431.2 L1512.3,2431.2 L1524.9,2431.2 L1537.5,2431.2 L1550.1,2431.2 L1562.7,2431.2 L1575.3,2431.2 L1587.9,2431.2 L1600.5,2431.2 L1613.1,2431.2 L1625.7,2431.2 L1638.3,2431.2 L1650.9,2431.2 L1663.5,2431.1 L1676.1,2431.1 L1688.7,2431.1 L1701.3,2430.5 L1707.5,2430.0 L1719.9,2427.6 L1728.7,2425.2 L1730.8,2424.8 L1737.2,2424.4 L1737.6,2424.4 L1738.0,2424.8 L1738.4,2425.4 L1739.4,2427.7 L1740.9,2430.5 L1741.3,2431.0 L1741.7,2431.1 L1742.0,2431.0 L1742.3,2430.7 L1742.6,2430.3 L1743.3,2429.2 L1744.2,2426.9 L1746.9,2417.3 L1748.2,2410.4 L1749.5,2397.9 L1750.2,2385.3 L1750.9,2372.7 L1751.8,2360.1 L1752.7,2347.5 L1754.0,2337.0 L1754.7,2333.5 L1755.3,2331.6 L1755.7,2330.4 L1756.1,2329.8 L1756.9,2328.7 L1758.0,2327.7 L1759.3,2326.6"/>
<path stroke="#0000ff" d="M1089.9,2337.1 L1092.6,2343.0 L1093.7,2346.2 L1094.9,2352.3 L1096.3,2364.9 L1097.6,2377.4 L1098.8,2390.0 L1100.1,2402.5 L1101.3,2414.9 L1102.2,2420.3 L1102.8,2422.7 L1103.0,2423.2 L1103.3,2423.8 L1104.1,2425.0 L1105.1,2426.2 L1106.3,2427.3 L1107.5,2428.1 L1108.1,2428.4 L1111.7,2429.4 L1117.9,2430.6 L1124.5,2431.2 L1134.4,2431.0 L1146.9,2429.9 L1150.4,2429.2 L1154.6,2428.0 L1158.6,2426.4 L1161.6,2424.9 L1163.2,2423.9 L1164.8,2422.7 L1166.8,2420.7 L1169.1,2417.9 L1172.0,2413.6 L1174.7,2408.8 L1177.6,2402.4 L1180.4,2394.4 L1183.3,2382.2 L1185.6,2369.8 L1187.8,2357.3 L1189.8,2344.8 L1192.3,2333.9 L1193.4,2330.4 L1194.2,2328.5 L1194.8,2327.3 L1195.2,2326.8 L1195.6,2326.2 L1196.3,2325.7 L1196.9,2325.3 L1197.2,2325.1 L1197.5,2325.2 L1197.7,2325.4 L1198.1,2326.0 L1198.5,2326.8 L1199.0,2328.6 L1199.7,2333.4 L1201.1,2346.0 L1202.6,2358.4 L1203.8,2371.0 L1204.9,2383.6 L1206.0,2395.6 L1207.0,2408.0 L1208.0,2420.4 L1209.1,2430.3 L1209.4,2431.2 L1209.6,2431.2 L1209.8,2430.8 L1210.9,2422.6 L1211.7,2410.5 L1212.4,2398.5 L1213.1,2386.4 L1213.9,2374.3 L1214.7,2361.7 L1215.4,2349.1 L1216.2,2336.6 L1217.3,2324.0 L1218.6,2312.0 L1220.1,2303.1 L1220.7,2300.4 L1221.3,2298.8 L1222.0,2297.3 L1222.3,2296.7 L1222.6,2296.3 L1222.9,2296.2 L1223.2,2296.3 L1223.4,2296.6 L1223.9,2297.7 L1224.6,2300.0 L1227.1,2311.8 L1228.9,2324.3 L1230.5,2336.8 L1232.0,2349.3 L1233.5,2361.9 L1235.4,2374.3 L1238.1,2385.2 L1241.7,2396.0 L1245.6,2404.8 L1247.2,2407.9 L1249.2,2410.9 L1251.0,2413.1 L1252.5,2414.6 L1254.0,2415.9 L1256.3,2417.5 L1259.4,2419.2 L1265.8,2422.0 L1271.2,2423.8 L1278.7,2425.4 L1291.2,2426.9 L1303.8,2428.1 L1316.3,2429.0 L1328.9,2429.6 L1341.5,2430.0 L1354.1,2430.4 L1366.7,2430.6 L1379.3,2430.8 L1391.9,2430.9 L1404.5,2431.0 L1417.1,2431.0 L1429.7,2431.1 L1442.3,2431.1 L1455.0,2431.1 L1467.6,2431.2 L1480.2,2431.2 L1492.8,2431.2 L1505.4,2431.2 L1518.0,2431.3 L1530.6,2431.3 L1543.2,2431.3 L1555.8,2431.3 L1568.4,2431.3 L1581.0,2431.3 L1593.5,2431.3 L1599.8,2431.3 L1600.5,2431.3 L1601.9,2431.1 L1614.5,2430.8 L1627.1,2430.6 L1639.7,2430.2 L1652.3,2429.6 L1664.9,2428.8 L1677.4,2427.8 L1687.1,2426.5 L1695.3,2424.6 L1704.7,2421.6 L1711.8,2418.6 L1714.9,2417.0 L1722.5,2412.0 L1726.7,2409.4 L1727.4,2409.1 L1728.0,2408.8 L1728.7,2408.7 L1733.6,2408.3 L1734.1,2408.3 L1734.6,2408.5 L1735.0,2408.8 L1735.4,2409.3 L1735.7,2409.9 L1736.4,2411.3 L1738.8,2418.0 L1740.6,2424.8 L1741.4,2426.7 L1742.0,2428.0 L1742.9,2429.4 L1743.4,2430.1 L1743.9,2430.6 L1744.3,2431.0 L1744.7,2431.1 L1745.0,2431.0 L1745.4,2430.7 L1745.7,2430.3 L1746.2,2429.2 L1747.0,2426.9 L1750.3,2415.2 L1751.6,2410.4 L1752.8,2407.1 L1753.8,2405.2 L1754.5,2404.0 L1755.4,2402.9 L1755.8,2402.5 L1756.9,2401.7 L1758.2,2401.1 L1759.3,2400.6"/>
<path stroke="#000000" d="M1089.9,2363.8 L1093.4,2375.9 L1096.5,2388.1 L1099.1,2400.5 L1102.4,2412.7 L1104.1,2417.5 L1105.4,2420.7 L1106.7,2423.0 L1108.0,2424.6 L1109.5,2426.3 L1110.6,2427.4 L1111.7,2428.3 L1112.9,2429.0 L1113.5,2429.3 L1116.7,2430.1 L1122.3,2430.9 L1127.3,2431.2 L1128.6,2431.2 L1130.0,2430.9 L1131.4,2430.4 L1132.8,2429.7 L1134.7,2428.6 L1136.4,2427.3 L1137.7,2426.1 L1138.9,2424.6 L1140.4,2422.3 L1142.2,2418.3 L1146.4,2406.8 L1149.9,2394.6 L1152.6,2382.3 L1154.6,2369.9 L1156.3,2357.4 L1157.9,2344.9 L1159.4,2332.4 L1160.8,2319.8 L1162.1,2307.3 L1163.3,2294.8 L1164.5,2282.2 L1165.6,2269.7 L1166.6,2257.1 L1167.6,2244.5 L1168.5,2232.0 L1169.6,2219.4 L1170.6,2206.9 L1171.7,2194.3 L1172.7,2181.7 L1173.8,2169.2 L1175.0,2156.7 L1176.3,2144.1 L1177.6,2131.6 L1179.1,2119.1 L1180.8,2106.6 L1182.8,2094.1 L1184.1,2088.6 L1185.1,2085.3 L1185.8,2083.8 L1186.1,2083.2 L1186.4,2082.7 L1186.7,2082.4 L1187.0,2082.3 L1187.3,2082.4 L1187.7,2082.6 L1188.1,2083.1 L1188.8,2084.3 L1189.6,2085.9 L1190.2,2087.5 L1190.6,2089.1 L1192.0,2100.7 L1192.7,2112.7 L1193.6,2125.3 L1194.5,2137.9 L1195.4,2150.5 L1196.2,2163.0 L1196.9,2175.6 L1197.6,2188.2 L1198.2,2200.8 L1198.8,2213.4 L1199.4,2226.0 L1200.0,2238.6 L1200.5,2251.1 L1201.0,2263.7 L1201.5,2276.3 L1202.0,2288.9 L1202.5,2301.5 L1203.0,2314.1 L1203.5,2326.7 L1204.0,2339.3 L1204.5,2351.9 L1205.0,2364.5 L1205.5,2377.1 L1206.1,2389.6 L1206.7,2402.2 L1207.5,2414.4 L1208.7,2426.7 L1209.4,2430.9 L1209.5,2431.2 L1209.6,2431.2 L1209.9,2430.2 L1210.9,2417.5 L1211.5,2405.2 L1212.0,2392.4 L1212.5,2380.0 L1213.0,2367.4 L1213.5,2354.8 L1213.9,2342.2 L1214.3,2329.6 L1214.7,2317.0 L1215.1,2304.4 L1215.6,2291.8 L1216.0,2279.2 L1216.4,2266.7 L1216.8,2254.1 L1217.2,2241.5 L1217.6,2228.9 L1218.0,2216.3 L1218.4,2203.7 L1218.8,2191.1 L1219.2,2178.5 L1219.6,2165.9 L1220.1,2153.3 L1220.5,2140.7 L1220.9,2128.1 L1221.3,2115.5 L1221.8,2102.9 L1222.2,2090.4 L1222.6,2077.8 L1223.1,2065.2 L1223.6,2052.6 L1224.0,2040.0 L1224.5,2027.4 L1225.0,2014.8 L1225.5,2002.2 L1226.1,1989.6 L1226.6,1977.0 L1227.1,1964.4 L1227.7,1951.9 L1228.3,1939.3 L1228.9,1926.7 L1229.5,1914.1 L1230.1,1901.5 L1230.7,1888.9 L1231.4,1879.2 L1232.3,1873.6 L1233.7,1868.2 L1234.5,1865.9 L1234.9,1865.1 L1235.2,1864.5 L1235.6,1864.1 L1235.9,1864.0 L1236.3,1864.2 L1236.8,1864.6 L1237.2,1865.3 L1237.7,1866.0 L1238.1,1866.8 L1238.3,1867.6 L1239.0,1872.9 L1239.7,1885.0 L1240.6,1897.6 L1241.5,1910.1 L1242.5,1922.7 L1243.4,1935.3 L1244.3,1947.8 L1245.2,1960.4 L1246.1,1973.0 L1247.0,1985.5 L1247.9,1998.1 L1248.8,2010.7 L1249.8,2023.2 L1250.7,2035.8 L1251.7,2048.4 L1252.6,2060.9 L1253.6,2073.5 L1254.6,2086.1 L1255.6,2098.6 L1256.6,2111.2 L1257.7,2123.7 L1258.7,2136.3 L1259.8,2148.8 L1260.9,2161.4 L1262.1,2173.9 L1263.3,2186.5 L1264.5,2199.0 L1265.7,2211.6 L1267.0,2224.1 L1268.3,2236.6 L1269.6,2249.2 L1271.0,2261.7 L1272.4,2274.2 L1273.9,2286.7 L1275.4,2299.2 L1276.8,2311.8 L1278.8,2324.2 L1281.7,2336.4 L1284.7,2348.7 L1288.0,2360.9 L1292.1,2372.8 L1294.9,2379.2 L1297.9,2384.7 L1301.9,2390.5 L1306.3,2396.0 L1309.7,2399.6 L1312.9,2402.3 L1317.4,2405.5 L1323.6,2409.0 L1331.8,2412.7 L1343.7,2416.9 L1355.9,2420.1 L1368.3,2422.7 L1380.7,2424.8 L1393.2,2426.4 L1405.7,2427.7 L1418.3,2428.6 L1430.9,2429.1 L1443.5,2429.5 L1456.1,2429.9 L1468.7,2430.4 L1481.3,2431.0 L1493.8,2431.1 L1506.4,2431.1 L1519.0,2431.1 L1531.6,2431.1 L1544.2,2431.1 L1556.8,2430.8 L1569.4,2430.1 L1582.0,2429.1 L1594.5,2427.8 L1607.0,2425.9 L1619.4,2423.7 L1631.7,2420.9 L1643.8,2417.4 L1649.1,2415.4 L1652.2,2413.9 L1655.7,2411.8 L1665.8,2404.0 L1672.9,2397.3 L1679.0,2390.5 L1684.8,2382.6 L1691.4,2371.9 L1697.3,2360.7 L1702.9,2349.5 L1708.1,2338.7 L1711.1,2333.9 L1712.3,2332.1 L1713.7,2330.5 L1714.7,2329.6 L1716.5,2328.5 L1717.8,2327.8 L1718.5,2327.6 L1719.1,2327.4 L1719.7,2327.5 L1720.3,2327.7 L1720.9,2328.1 L1721.5,2328.6 L1722.6,2329.7 L1723.8,2331.4 L1724.8,2333.1 L1726.0,2335.7 L1728.4,2343.2 L1731.1,2355.5 L1733.7,2367.8 L1736.1,2380.2 L1738.5,2392.6 L1741.2,2404.9 L1743.1,2412.4 L1744.5,2416.3 L1745.7,2418.9 L1746.8,2420.7 L1748.0,2422.4 L1749.5,2423.9 L1750.6,2424.8 L1751.3,2425.2 L1751.9,2425.5 L1752.5,2425.7 L1755.8,2426.3 L1759.3,2426.5"/>
</g>
<g fill="#000" shape-rendering="crispEdges">
<rect x="1087" y="1360" width="6" height="1074"/>
<rect x="1757" y="1360" width="5" height="1074"/>
<rect x="1087" y="1360" width="675" height="6"/>
<rect x="1087" y="2428" width="675" height="6"/>
<rect x="1087" y="2434" width="6" height="25"/>
<rect x="1087" y="1366" width="6" height="24"/>
<rect x="1171" y="2434" width="6" height="11"/>
<rect x="1171" y="1366" width="6" height="11"/>
<rect x="1254" y="2434" width="6" height="25"/>
<rect x="1254" y="1366" width="6" height="24"/>
<rect x="1338" y="2434" width="6" height="11"/>
<rect x="1338" y="1366" width="6" height="11"/>
<rect x="1422" y="2434" width="6" height="25"/>
<rect x="1422" y="1366" width="6" height="24"/>
<rect x="1505" y="2434" width="6" height="11"/>
<rect x="1505" y="1366" width="6" height="11"/>
<rect x="1589" y="2434" width="6" height="25"/>
<rect x="1589" y="1366" width="6" height="24"/>
<rect x="1673" y="2434" width="6" height="11"/>
<rect x="1673" y="1366" width="6" height="11"/>
<rect x="1757" y="2434" width="5" height="25"/>
<rect x="1757" y="1366" width="5" height="24"/>
<rect x="1062" y="1360" width="25" height="6"/>
<rect x="1732" y="1360" width="25" height="6"/>
<rect x="1076" y="1494" width="11" height="6"/>
<rect x="1746" y="1494" width="11" height="6"/>
<rect x="1062" y="1627" width="25" height="6"/>
<rect x="1732" y="1627" width="25" height="6"/>
<rect x="1076" y="1761" width="11" height="6"/>
<rect x="1746" y="1761" width="11" height="6"/>
<rect x="1062" y="1894" width="25" height="6"/>
<rect x="1732" y="1894" width="25" height="6"/>
<rect x="1076" y="2028" width="11" height="6"/>
<rect x="1746" y="2028" width="11" height="6"/>
<rect x="1062" y="2161" width="25" height="6"/>
<rect x="1732" y="2161" width="25" height="6"/>
<rect x="1076" y="2295" width="11" height="6"/>
<rect x="1746" y="2295" width="11" height="6"/>
<rect x="1062" y="2428" width="25" height="6"/>
<rect x="1732" y="2428" width="25" height="6"/>
</g>
<g font-family="'Liberation Sans', Arial, Helvetica, sans-serif" font-weight="bold" fill="#000" stroke="#000" stroke-width="0.6" stroke-linejoin="round">
<text transform="translate(1434.40,1338.90) scale(0.99,1.0)" font-size="74" text-anchor="start">Model (d)</text>
<text transform="translate(1042.50,2446.60) scale(0.976,1.025)" font-size="61.5" text-anchor="end">0</text>
<text transform="translate(1042.50,2179.60) scale(0.976,1.025)" font-size="61.5" text-anchor="end">1</text>
<text transform="translate(1042.50,1912.60) scale(0.976,1.025)" font-size="61.5" text-anchor="end">2</text>
<text transform="translate(1042.50,1645.60) scale(0.976,1.025)" font-size="61.5" text-anchor="end">3</text>
<text transform="translate(1042.50,1378.60) scale(0.976,1.025)" font-size="61.5" text-anchor="end">4</text>
<text transform="translate(1090.70,2522.70) scale(0.976,1.025)" font-size="61.5" text-anchor="middle">-1.0</text>
<text transform="translate(1258.08,2522.70) scale(0.976,1.025)" font-size="61.5" text-anchor="middle">-0.5</text>
<text transform="translate(1425.45,2522.70) scale(0.976,1.025)" font-size="61.5" text-anchor="middle">0.0</text>
<text transform="translate(1592.83,2522.70) scale(0.976,1.025)" font-size="61.5" text-anchor="middle">0.5</text>
<text transform="translate(1760.20,2522.70) scale(0.976,1.025)" font-size="61.5" text-anchor="middle">1.0</text>
<text transform="translate(1425.75,2642.00) scale(0.99,1.03)" font-size="74" text-anchor="middle">E<tspan font-size="50" dy="20">F</tspan><tspan dy="-20"> (eV)</tspan></text>
</g>
</g>
<g id="legend" font-family="'Liberation Sans', Arial, Helvetica, sans-serif" font-weight="bold">
<line x1="1380.5" y1="222.6" x2="1542" y2="222.6" stroke="#ff0000" stroke-width="7" stroke-linecap="round"/>
<text transform="translate(1558,249.1) scale(0.985,1.04)" font-size="61.5" fill="#000" stroke="#000" stroke-width="0.6" stroke-linejoin="round">50 K</text>
<line x1="1380.5" y1="311.6" x2="1542" y2="311.6" stroke="#0000ff" stroke-width="7" stroke-linecap="round"/>
<text transform="translate(1558,337.4) scale(0.985,1.04)" font-size="61.5" fill="#000" stroke="#000" stroke-width="0.6" stroke-linejoin="round">100 K</text>
<line x1="1380.5" y1="400.5" x2="1542" y2="400.5" stroke="#000000" stroke-width="7" stroke-linecap="round"/>
<text transform="translate(1558,425.9) scale(0.985,1.04)" font-size="61.5" fill="#000" stroke="#000" stroke-width="0.6" stroke-linejoin="round">300 K</text>
</g>
</svg>
</body>
</html>
